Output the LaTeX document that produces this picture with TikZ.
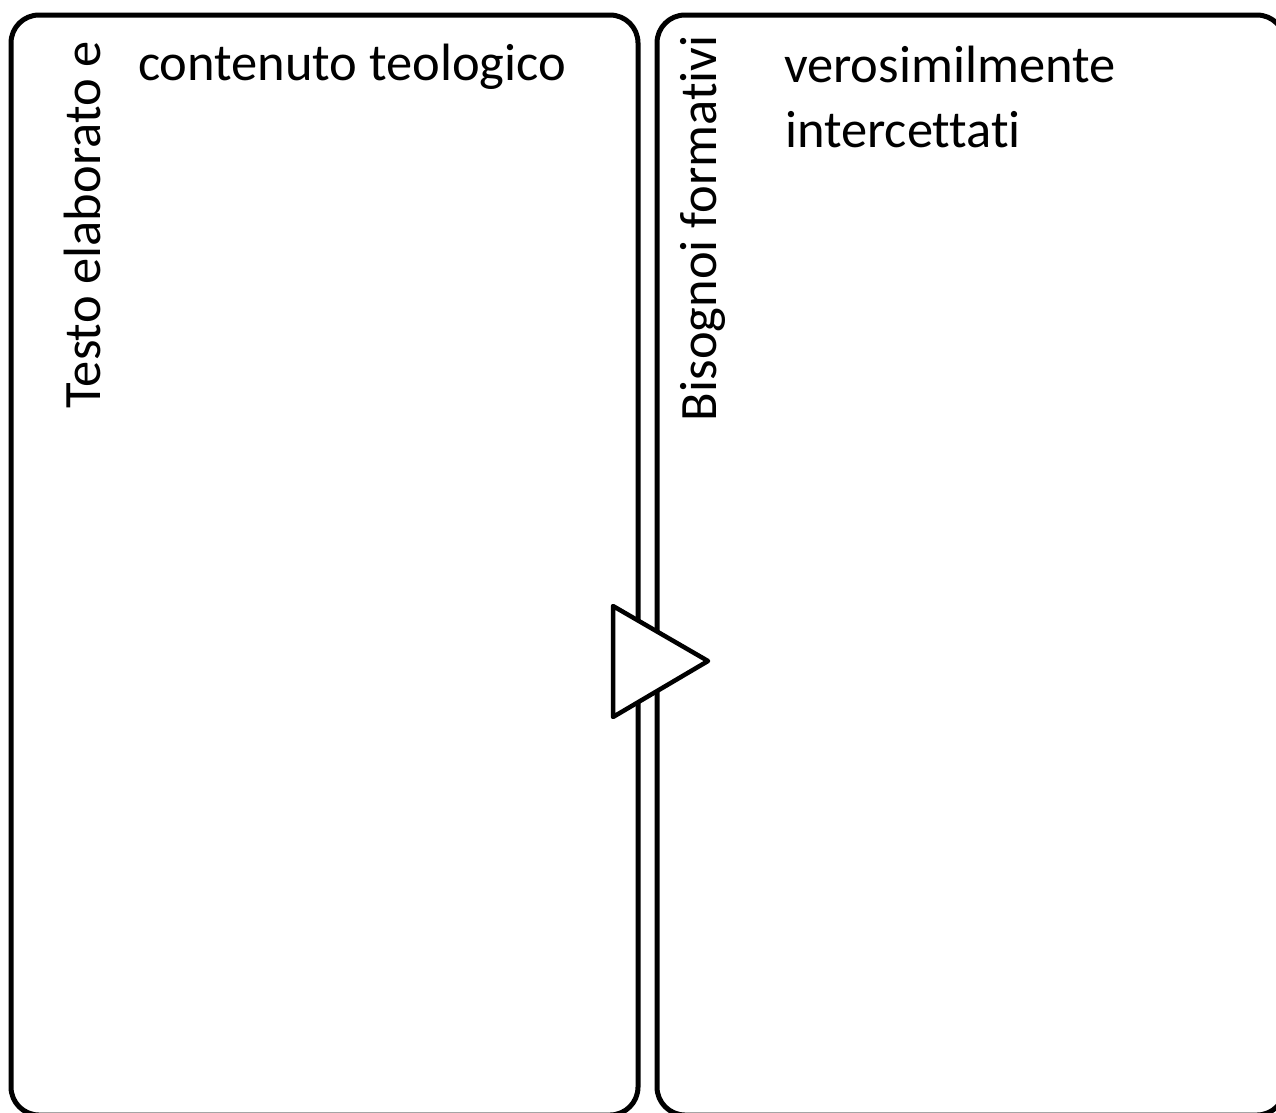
\documentclass[tikz,border=0pt]{standalone}
\usepackage{fontspec}
\setmainfont{Carlito}[Ligatures=CommonOff]
\begin{document}
\begin{tikzpicture}[x=1pt,y=-1pt,
  box/.style={draw=black,line width=5pt,rounded corners=28pt,fill=white,inner sep=0pt,outer sep=0pt,anchor=north west},
  lbl/.style={inner sep=0pt,outer sep=0pt,anchor=base west,font=\fontsize{52.5}{65}\selectfont},
  arrowtri/.style={draw=black,line width=4.5pt,line join=round,fill=white}]
\useasboundingbox (0,0) rectangle (1276,1112);
\clip (0,0) rectangle (1276,1112);
\node[box,minimum width=627pt,minimum height=1100pt] (L) at (11,15) {};
\node[box,minimum width=628pt,minimum height=1100pt] (R) at (657,15) {};
\coordinate (t1) at (613,606);
\coordinate (t2) at (708,661);
\coordinate (t3) at (613,717);
\draw[arrowtri] (t1) -- (t2) -- (t3) -- cycle;
\node[lbl,rotate=90] (lt) at (100,408) {Testo elaborato e};
\node[lbl] (lc) at (138,80) {contenuto teologico};
\node[lbl,rotate=90] (rt) at (716,421) {Bisognoi formativi};
\node[lbl] (rc) at (784,82) {verosimilmente};
\node[lbl] (rc2) at (785,147) {intercettati};
\end{tikzpicture}
\end{document}
